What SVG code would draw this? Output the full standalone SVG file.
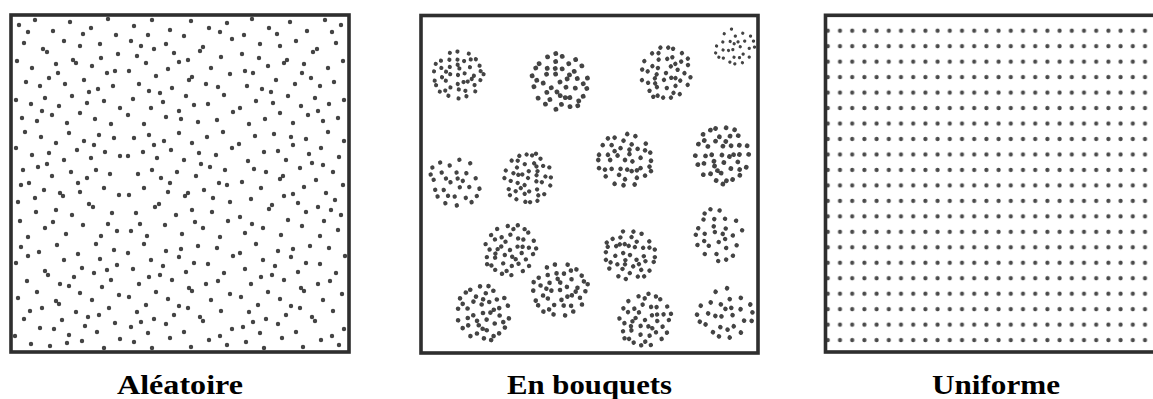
<svg xmlns="http://www.w3.org/2000/svg" xmlns:xlink="http://www.w3.org/1999/xlink" width="1153" height="399" viewBox="0 0 1153 399">
<style>
.frame{fill:none;stroke:#2e2e2e;stroke-width:3.6}
.dots{fill:none;stroke:#444;stroke-width:4.4;stroke-linecap:round}
.label{font-family:"Liberation Serif","Times New Roman",serif;font-weight:bold;font-size:28px;fill:#000}
</style>
<defs>
<path id="t1" class="dots" d="M7 9h0M23 4h0M41 15h0M58 6h0M79 12h0M96 3h0M104 19h0M12 27h0M31 33h0M35 36h0M52 25h0M68 30h0M88 28h0M106 38h0M5 45h0M20 52h0M44 48h0M61 44h0M64 47h0M80 50h0M95 57h0M14 66h0M28 70h0M37 62h0M53 68h0M72 64h0M86 73h0M101 70h0M4 84h0M19 88h0M33 82h0M47 90h0M60 80h0M75 87h0M92 85h0M108 92h0M10 102h0M25 105h0M40 99h0M55 107h0M68 97h0M83 103h0M99 108h0M46 57h0M89 42h0M16 16h0M71 18h0M103 55h0M30 95h0M77 76h0"/>
<path id="c1" class="dots" d="M0 0h0M6 -4h0M-8 2h0M3 9h0M-4 -10h0M12 3h0M-11 -5h0M9 -12h0M-10 10h0M16 -5h0M-15 8h0M1 -16h0M-3 15h0M13 13h0M-14 -12h0M20 4h0M-19 -1h0M7 -20h0M-7 20h0M21 -12h0M-21 14h0M16 18h0M-16 -19h0M24 -3h0M-25 5h0M3 -25h0M-2 24h0M23 10h0M-22 -8h0M12 -22h0M-12 23h0M18 -17h0M9 23h0M-9 -23h0M6 14h0M-6 -15h0M15 -1h0M-13 1h0M8 5h0M-1 -7h0M-26 -3h0M25 -10h0M-18 18h0"/>
<path id="c2" class="dots" d="M2 -3h0M-6 4h0M9 6h0M-3 -12h0M14 -8h0M-13 -4h0M5 15h0M-9 13h0M18 2h0M-18 6h0M0 -20h0M-7 -20h0M10 -18h0M20 13h0M-16 -15h0M-3 22h0M13 22h0M-22 -5h0M24 -6h0M-20 17h0M3 5h0M-10 -10h0M7 -6h0M22 -15h0M-24 10h0M-14 22h0M16 -19h0M-1 9h0"/>
<pattern id="grid" patternUnits="userSpaceOnUse" x="821.7" y="22.97" width="12.2" height="15.47">
<circle cx="6.1" cy="7.735" r="2.1" fill="#4a4a4a"/>
</pattern>
</defs>
<g id="panel-aleatoire">
<use href="#t1" transform="translate(12 16)"/>
<use href="#t1" transform="translate(124 16) rotate(90 56 56)"/>
<use href="#t1" transform="translate(236 16) matrix(-1 0 0 1 112 0)"/>
<use href="#t1" transform="translate(12 128) rotate(180 56 56)"/>
<use href="#t1" transform="translate(124 128) matrix(1 0 0 -1 0 112)"/>
<use href="#t1" transform="translate(236 128) rotate(270 56 56)"/>
<use href="#t1" transform="translate(12 240) matrix(0 1 1 0 0 0)"/>
<use href="#t1" transform="translate(124 240) matrix(0 -1 -1 0 112 112)"/>
<use href="#t1" transform="translate(236 240) rotate(90 56 56) matrix(-1 0 0 1 112 0)"/>
<rect class="frame" x="11" y="15" width="338" height="337"/>
<text class="label" x="117" y="394" textLength="126" lengthAdjust="spacingAndGlyphs">Aléatoire</text>
</g>
<g id="panel-bouquets">
<use href="#c1" transform="translate(458 75) rotate(20) scale(0.95)"/>
<use href="#c1" transform="translate(560 82) rotate(75) scale(1.1)"/>
<use href="#c1" transform="translate(666 73) rotate(140) scale(1)"/>
<use href="#c2" transform="translate(735 48) rotate(200) scale(0.75)"/>
<use href="#c2" transform="translate(454 183) rotate(250) scale(1)"/>
<use href="#c1" transform="translate(528 178) rotate(310) scale(0.95)"/>
<use href="#c1" transform="translate(625 160) rotate(45) scale(1.05)"/>
<use href="#c1" transform="translate(722 155) rotate(110) scale(1.08)"/>
<use href="#c1" transform="translate(510 250) rotate(170) scale(1)"/>
<use href="#c1" transform="translate(630 255) rotate(230) scale(0.98)"/>
<use href="#c2" transform="translate(717 235) rotate(290) scale(1)"/>
<use href="#c1" transform="translate(560 290) rotate(10) scale(1.05)"/>
<use href="#c1" transform="translate(483 313) rotate(95) scale(1.05)"/>
<use href="#c1" transform="translate(645 320) rotate(160) scale(1.02)"/>
<use href="#c2" transform="translate(725 315) rotate(215) scale(1.05)"/>
<rect class="frame" x="421" y="15.5" width="337" height="337.5"/>
<text class="label" x="507" y="394" textLength="165" lengthAdjust="spacingAndGlyphs">En bouquets</text>
</g>
<g id="panel-uniforme">
<rect x="822" y="20" width="331" height="328" fill="url(#grid)"/>
<rect class="frame" x="825.5" y="15.3" width="340" height="336.7"/>
<text class="label" x="932" y="394" textLength="128" lengthAdjust="spacingAndGlyphs">Uniforme</text>
</g>
</svg>
